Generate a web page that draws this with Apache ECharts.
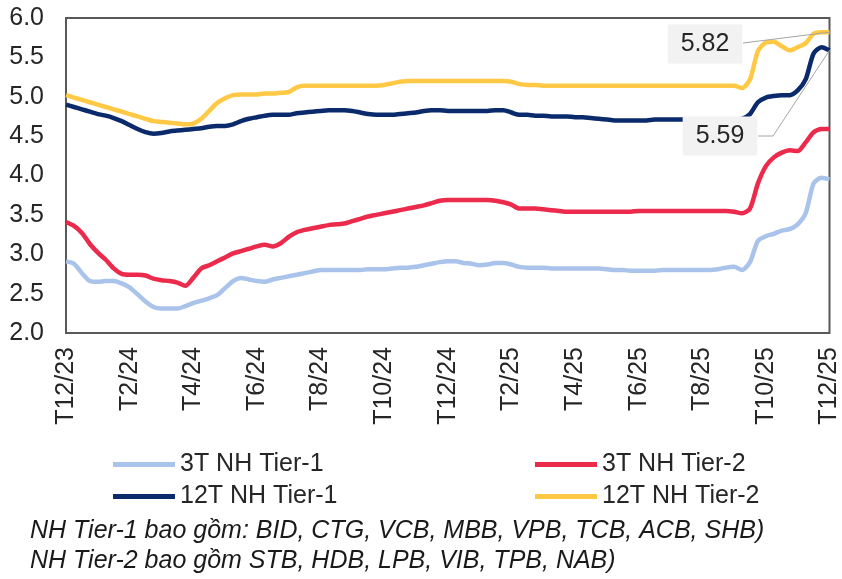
<!DOCTYPE html>
<html>
<head>
<meta charset="utf-8">
<script src="https://cdn.jsdelivr.net/npm/echarts@6/dist/echarts.min.js"></script>
<style>
html,body{margin:0;padding:0;background:#fff;}
#chart{width:842px;height:579px;}
</style>
</head>
<body>
<div id="chart"></div>
<script>
// Month tick labels (every month; axis shows every 2nd month)
var months = ['T12/23','T1/24','T2/24','T3/24','T4/24','T5/24','T6/24','T7/24','T8/24','T9/24','T10/24','T11/24',
  'T12/24','T1/25','T2/25','T3/25','T4/25','T5/25','T6/25','T7/25','T8/25','T9/25','T10/25','T11/25','T12/25'];
var weeksPerMonth = 4;

// Series values (weekly readings, %)
var tier1_3T = [2.91,2.88,2.76,2.66,2.65,2.66,2.66,2.63,2.58,2.49,2.40,2.33,2.31,2.31,2.31,2.34,
  2.38,2.41,2.44,2.48,2.57,2.66,2.70,2.68,2.66,2.65,2.68,2.70,2.72,2.74,2.76,2.78,
  2.80,2.80,2.80,2.80,2.80,2.80,2.81,2.81,2.81,2.82,2.83,2.83,2.84,2.86,2.88,2.90,
  2.91,2.91,2.89,2.88,2.86,2.87,2.89,2.89,2.87,2.84,2.83,2.83,2.83,2.82,2.82,2.82,
  2.82,2.82,2.82,2.82,2.81,2.80,2.80,2.79,2.79,2.79,2.79,2.80,2.80,2.80,2.80,2.80,
  2.80,2.80,2.81,2.83,2.84,2.80,2.90,3.17,3.23,3.26,3.30,3.32,3.38,3.52,3.90,3.97,3.95];
var tier2_3T = [3.41,3.36,3.27,3.13,3.02,2.93,2.82,2.75,2.74,2.74,2.73,2.69,2.67,2.66,2.64,2.60,
  2.70,2.82,2.86,2.91,2.96,3.01,3.04,3.07,3.10,3.12,3.10,3.14,3.22,3.28,3.31,3.33,
  3.35,3.37,3.38,3.39,3.42,3.45,3.48,3.50,3.52,3.54,3.56,3.58,3.60,3.62,3.65,3.68,
  3.69,3.69,3.69,3.69,3.69,3.69,3.68,3.66,3.63,3.58,3.58,3.58,3.57,3.56,3.55,3.54,
  3.54,3.54,3.54,3.54,3.54,3.54,3.54,3.54,3.55,3.55,3.55,3.55,3.55,3.55,3.55,3.55,
  3.55,3.55,3.55,3.55,3.54,3.52,3.58,3.90,4.12,4.23,4.29,4.32,4.31,4.42,4.55,4.59,4.59];
var tier1_12T = [4.90,4.87,4.84,4.81,4.78,4.76,4.73,4.69,4.64,4.59,4.55,4.53,4.54,4.56,4.57,4.58,
  4.59,4.60,4.62,4.63,4.63,4.65,4.69,4.72,4.74,4.76,4.77,4.77,4.77,4.79,4.80,4.81,
  4.82,4.83,4.83,4.83,4.82,4.80,4.78,4.77,4.77,4.77,4.78,4.79,4.80,4.82,4.83,4.83,
  4.82,4.82,4.82,4.82,4.82,4.82,4.83,4.83,4.80,4.77,4.77,4.76,4.76,4.75,4.75,4.75,
  4.74,4.74,4.73,4.72,4.71,4.70,4.70,4.70,4.70,4.70,4.71,4.71,4.71,4.71,4.71,4.71,
  4.71,4.71,4.71,4.71,4.71,4.72,4.78,4.93,4.99,5.01,5.02,5.02,5.08,5.22,5.55,5.63,5.59];
var tier2_12T = [5.02,4.99,4.96,4.93,4.90,4.87,4.84,4.81,4.78,4.75,4.72,4.69,4.68,4.67,4.66,4.65,
  4.66,4.72,4.82,4.92,4.98,5.02,5.03,5.03,5.03,5.04,5.04,5.05,5.06,5.12,5.14,5.14,
  5.14,5.14,5.14,5.14,5.14,5.14,5.14,5.14,5.15,5.17,5.19,5.20,5.20,5.20,5.20,5.20,
  5.20,5.20,5.20,5.20,5.20,5.20,5.20,5.20,5.19,5.16,5.15,5.15,5.14,5.14,5.14,5.14,
  5.14,5.14,5.14,5.14,5.14,5.14,5.14,5.14,5.14,5.14,5.14,5.14,5.14,5.14,5.14,5.14,
  5.14,5.14,5.14,5.14,5.14,5.11,5.22,5.58,5.69,5.70,5.64,5.59,5.63,5.68,5.80,5.82,5.82];

var seriesNames = ['3T NH Tier-1','3T NH Tier-2','12T NH Tier-1','12T NH Tier-2'];
var seriesColors = ['#a9c3ea','#ec2a4b','#0b2a6c','#ffc845'];
var footnotes = ['NH Tier-1 bao gồm: BID, CTG, VCB, MBB, VPB, TCB, ACB, SHB)',
                 'NH Tier-2 bao gồm STB, HDB, LPB, VIB, TPB, NAB)'];

var categories = [];
for (var m = 0; m < months.length - 1; m++) {
  for (var w = 0; w < weeksPerMonth; w++) categories.push(months[m] + ' W' + (w + 1));
}
categories.push(months[months.length - 1] + ' W1');

var FONT = 'Liberation Sans, Arial, sans-serif';
var FS = 25;

// Callout boxes (layout only): centre of box, and where the leader leaves the box
var callouts = [
  { series: 3, box: [705, 44], from: [[743, 43]] },
  { series: 2, box: [720, 136], from: [[758, 136], [773, 136]] }
];

function withEndLabel(arr) {
  return arr.map(function (v, i) {
    if (i !== arr.length - 1) return v;
    return { value: v, label: { show: true } };
  });
}

var calloutLabel = {
  show: false,
  formatter: function (p) { return p.value.toFixed(2); },
  fontFamily: FONT, fontSize: FS, color: '#262626',
  backgroundColor: '#f2f2f2', padding: [7, 13, 7, 13], lineHeight: 25
};

function makeSeries(idx, data, extra) {
  var s = {
    name: seriesNames[idx], type: 'line', data: data,
    showSymbol: true, showAllSymbol: true, symbol: 'circle', symbolSize: 0,
    smooth: 0.25,
    lineStyle: { color: seriesColors[idx], width: 4.5 },
    itemStyle: { color: seriesColors[idx] },
    emphasis: { disabled: true },
    z: 2
  };
  for (var k in extra) s[k] = extra[k];
  return s;
}

var legends = [
  { name: seriesNames[0], left: 108, top: 447 },
  { name: seriesNames[1], left: 530, top: 447 },
  { name: seriesNames[2], left: 108, top: 479 },
  { name: seriesNames[3], left: 530, top: 479 }
].map(function (l) {
  return {
    data: [l.name], left: l.left, top: l.top, icon: 'rect',
    itemWidth: 62, itemHeight: 5, selectedMode: false,
    textStyle: { fontFamily: FONT, fontSize: FS, color: '#262626' }
  };
});

var chart = echarts.init(document.getElementById('chart'), null, { renderer: 'canvas' });
chart.setOption({
  animation: false,
  backgroundColor: '#ffffff',
  grid: { left: 66, right: 11, top: 18, bottom: 246, show: true, borderColor: '#595959', borderWidth: 2, backgroundColor: 'transparent' },
  legend: legends,
  xAxis: {
    type: 'category', data: categories, boundaryGap: false,
    axisLine: { show: false }, axisTick: { show: false }, splitLine: { show: false },
    axisLabel: {
      interval: weeksPerMonth * 2 - 1, rotate: 90, margin: 14,
      fontFamily: FONT, fontSize: FS, color: '#262626',
      formatter: function (v) { return v.split(' ')[0]; }
    }
  },
  yAxis: {
    type: 'value', min: 2, max: 6, interval: 0.5,
    axisLine: { show: false }, axisTick: { show: false }, splitLine: { show: false },
    axisLabel: {
      margin: 22, fontFamily: FONT, fontSize: FS, color: '#262626',
      formatter: function (v) { return v.toFixed(1); }
    }
  },
  series: [
    makeSeries(0, tier1_3T, {}),
    makeSeries(1, tier2_3T, {}),
    makeSeries(2, withEndLabel(tier1_12T), {
      label: calloutLabel,
      labelLayout: { x: callouts[1].box[0], y: callouts[1].box[1], align: 'center', verticalAlign: 'middle' },
      z: 4
    }),
    makeSeries(3, withEndLabel(tier2_12T), {
      label: calloutLabel,
      labelLayout: { x: callouts[0].box[0], y: callouts[0].box[1], align: 'center', verticalAlign: 'middle' },
      z: 3
    })
  ]
});

// Leader lines: from callout box to the last data point (pixel found through the axes)
var seriesData = [tier1_3T, tier2_3T, tier1_12T, tier2_12T];
var graphics = callouts.map(function (c) {
  var arr = seriesData[c.series];
  var end = chart.convertToPixel({ gridIndex: 0 }, [categories.length - 1, arr[arr.length - 1]]);
  return {
    type: 'polyline', z: 100, silent: true,
    shape: { points: c.from.concat([end]) },
    style: { stroke: '#a6a6a6', lineWidth: 1, fill: null }
  };
});
footnotes.forEach(function (t, i) {
  graphics.push({
    type: 'text', left: 30, top: 519 + i * 30,
    style: { text: t, fontFamily: FONT, fontSize: FS, fontStyle: 'italic', fill: '#1a1a1a' }
  });
});
chart.setOption({ graphic: graphics });
</script>
</body>
</html>
